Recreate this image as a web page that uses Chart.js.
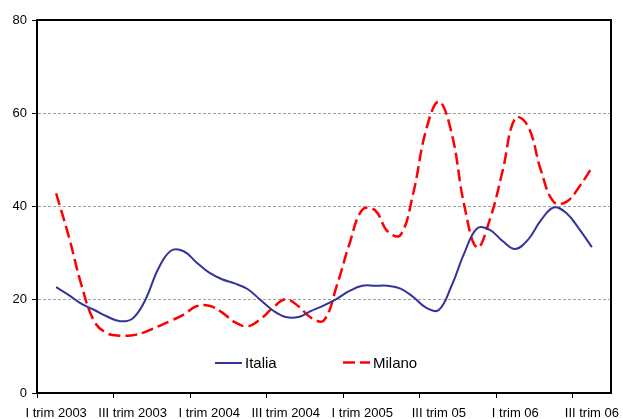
<!DOCTYPE html>
<html><head><meta charset="utf-8">
<script src="https://cdn.jsdelivr.net/npm/chart.js@4"></script>
<style>html,body{margin:0;padding:0;background:#fff}#wrap{width:623px;height:419px;position:relative}</style>
</head><body><div id="wrap"><canvas id="c"></canvas></div>
<script>
// Category labels on the x axis (shown every 6 months)
const tickLabels = ['I trim 2003','III trim 2003','I trim 2004','III trim 2004','I trim 2005','III trim 05','I trim 06','III trim 06'];
const labelPositions = [1, 7, 13, 19, 25, 31, 37, 43];
const boundaryTicks = [-0.5, 5.5, 11.5, 17.5, 23.5, 29.5, 35.5, 41.5];
const periods = [1,2,3,4,5,6,7,8,9,10,11,12,13,14,15,16,17,18,19,20,21,22,23,24,25,26,27,28,29,30,31,32,33,34,35,36,37,38,39,40,41,42,43];
const italia = [22.7,21.0,19.1,17.8,16.4,15.4,16.0,20.0,26.6,30.5,30.4,28.0,25.8,24.4,23.5,22.3,20.0,17.7,16.3,16.3,17.6,18.8,20.2,21.9,23.0,23.0,23.0,22.4,20.6,18.3,17.8,23.0,30.0,35.3,35.0,32.6,30.9,32.9,37.0,39.8,38.6,35.2,31.3];
const milano = [42.8,33.5,23.0,15.3,12.8,12.3,12.4,13.1,14.3,15.5,16.8,18.6,18.7,17.3,15.2,14.3,15.8,18.3,20.1,18.6,16.1,15.6,23.0,32.0,39.3,39.2,34.6,33.9,42.9,56.4,62.5,55.8,40.2,31.2,37.2,47.6,59.0,57.2,47.8,41.0,41.0,44.2,48.3];
const yTicks = [0, 20, 40, 60, 80];
const seriesNames = ['Italia', 'Milano'];

Chart.defaults.font.family = '"Liberation Sans", Arial, sans-serif';
Chart.defaults.color = '#000';

const frame = {
  id: 'frame',
  afterDraw(chart) {
    const {ctx, chartArea: a} = chart;
    ctx.save();
    ctx.strokeStyle = '#000';
    ctx.lineWidth = 2;
    ctx.beginPath();
    ctx.moveTo(a.left, a.top);
    ctx.lineTo(a.right, a.top);
    ctx.lineTo(a.right, a.bottom);
    ctx.stroke();
    ctx.restore();
  }
};

const legendInside = {
  id: 'legendInside',
  afterDraw(chart) {
    const ctx = chart.ctx;
    const items = [
      {x: 215, y: 363, ds: chart.data.datasets[0]},
      {x: 343, y: 362.5, ds: chart.data.datasets[1]}
    ];
    ctx.save();
    items.forEach(it => {
      ctx.strokeStyle = it.ds.borderColor;
      ctx.lineWidth = it.ds.borderWidth;
      ctx.setLineDash(it.ds.borderDash || []);
      ctx.beginPath();
      ctx.moveTo(it.x, it.y);
      ctx.lineTo(it.x + 27, it.y);
      ctx.stroke();
      ctx.setLineDash([]);
      ctx.fillStyle = '#000';
      ctx.font = '15px "Liberation Sans", Arial, sans-serif';
      ctx.textBaseline = 'middle';
      ctx.textAlign = 'left';
      ctx.fillText(it.ds.label, it.x + 30, it.y + 1);
    });
    ctx.restore();
  }
};

new Chart(document.getElementById('c'), {
  type: 'line',
  data: {
    datasets: [
      {
        label: seriesNames[0],
        data: periods.map((p, k) => ({x: p, y: italia[k]})),
        borderColor: '#333399',
        borderWidth: 2,
        pointRadius: 0,
        tension: 0.4,
        fill: false
      },
      {
        label: seriesNames[1],
        data: periods.map((p, k) => ({x: p, y: milano[k]})),
        borderColor: '#ff0000',
        borderWidth: 2.5,
        borderDash: [12, 5],
        pointRadius: 0,
        tension: 0.4,
        fill: false
      }
    ]
  },
  options: {
    responsive: true,
    maintainAspectRatio: false,
    animation: false,
    devicePixelRatio: 1,
    layout: {padding: {top: 20, left: 0, right: 12, bottom: 0}},
    plugins: {legend: {display: false}, tooltip: {enabled: false}, title: {display: false}},
    scales: {
      x: {
        type: 'linear',
        min: -0.5,
        max: 44.5,
        afterBuildTicks: (scale) => {
          scale.ticks = boundaryTicks.concat(labelPositions).sort((a, b) => a - b).map(v => ({value: v}));
        },
        afterFit: (scale) => {
          scale.height = 26;
          scale.paddingLeft = 0;
          scale.paddingRight = 0;
        },
        grid: {
          drawOnChartArea: false,
          tickLength: 5,
          tickWidth: 1,
          tickColor: (c) => (c.tick && Number.isInteger(c.tick.value)) ? 'rgba(0,0,0,0)' : '#000'
        },
        border: {display: true, color: '#000', width: 2},
        ticks: {
          autoSkip: false,
          maxRotation: 0,
          minRotation: 0,
          padding: 8,
          font: {size: 13},
          color: '#000',
          callback: (v) => {
            const k = labelPositions.indexOf(v);
            return k >= 0 ? tickLabels[k] : '';
          }
        }
      },
      y: {
        min: 0,
        max: 80,
        afterBuildTicks: (scale) => { scale.ticks = yTicks.map(v => ({value: v})); },
        afterFit: (scale) => { scale.width = 37; },
        grid: {
          color: (c) => (c.tick && (c.tick.value === 0 || c.tick.value === 80)) ? 'rgba(0,0,0,0)' : '#a0a0a0',
          lineWidth: 1,
          tickLength: 5,
          tickWidth: 1,
          tickColor: '#000'
        },
        border: {display: true, color: '#000', width: 2, dash: [3, 2]},
        ticks: {padding: 5, font: {size: 13}, color: '#000'}
      }
    }
  },
  plugins: [frame, legendInside]
});
</script>
</body></html>
